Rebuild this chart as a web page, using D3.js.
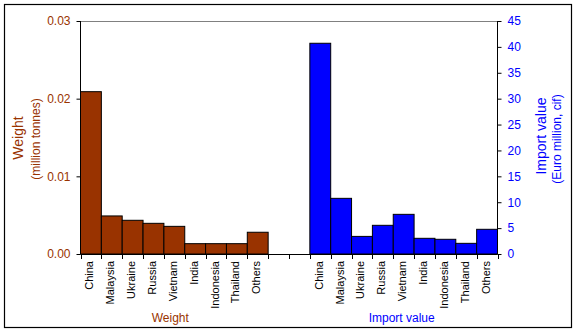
<!DOCTYPE html>
<html><head><meta charset="utf-8">
<script src="https://cdn.jsdelivr.net/npm/d3@7"></script>
<style>body{margin:0;background:#fff}svg{display:block;font-family:Arial,"Liberation Sans",sans-serif}</style>
</head><body>
<svg id="c" width="577" height="332"></svg>
<script>
const countries = ["China","Malaysia","Ukraine","Russia","Vietnam","India","Indonesia","Thailand","Others"];
const weightValues = [0.0209,0.0049,0.00434,0.00395,0.00356,0.00133,0.00133,0.00133,0.0028];
const importValues = [40.7,10.75,3.4,5.54,7.66,3.03,2.84,2.06,4.77];
const weightTicks = [0,0.01,0.02,0.03];
const importTicks = [0,5,10,15,20,25,30,35,40,45];

const brown = "#993300", blue = "#0000FF";
const svg = d3.select("#c");
const L = 80.5, R = 497.5, T = 21, B = 254;

svg.append("rect").attr("x",4.5).attr("y",4.5).attr("width",567).attr("height",323)
  .attr("fill","none").attr("stroke","#000").attr("stroke-width",1.2);

const slots = countries.map(c=>"w_"+c).concat(["gap1","gap2"], countries.map(c=>"i_"+c));
const x = d3.scaleBand().domain(slots).range([L,R]).padding(0);
const yW = d3.scaleLinear().domain([0,0.03]).range([B,T]);
const yI = d3.scaleLinear().domain([0,45]).range([B,T]);

// top gray line
svg.append("line").attr("x1",L).attr("x2",R).attr("y1",T+0.5).attr("y2",T+0.5).attr("stroke","#808080");

// bars
svg.append("g").selectAll("rect").data(countries).join("rect")
  .attr("x",(d)=>x("w_"+d)).attr("width",x.bandwidth())
  .attr("y",(d,i)=>yW(weightValues[i])).attr("height",(d,i)=>B-yW(weightValues[i]))
  .attr("fill",brown).attr("stroke","#000").attr("stroke-width",1);
svg.append("g").selectAll("rect").data(countries).join("rect")
  .attr("x",(d)=>x("i_"+d)).attr("width",x.bandwidth())
  .attr("y",(d,i)=>yI(importValues[i])).attr("height",(d,i)=>B-yI(importValues[i]))
  .attr("fill",blue).attr("stroke","#000").attr("stroke-width",1);

// left axis
const gL = svg.append("g").attr("transform",`translate(${L},0)`)
  .call(d3.axisLeft(yW).tickValues(weightTicks).tickFormat(d3.format(".2f")).tickSize(4).tickPadding(6));
gL.select(".domain").attr("stroke","#000").attr("d",`M0,${T}V${B}`);
gL.selectAll(".tick line").attr("stroke","#000");
gL.selectAll("text").attr("fill",brown).style("font-size","12px").style("font-family","Arial, 'Liberation Sans', sans-serif");

// right axis
const gR = svg.append("g").attr("transform",`translate(${R},0)`)
  .call(d3.axisRight(yI).tickValues(importTicks).tickSize(4).tickPadding(6));
gR.select(".domain").attr("stroke","#000").attr("d",`M0,${T}V${B}`);
gR.selectAll(".tick line").attr("stroke","#000");
gR.selectAll("text").attr("fill",blue).style("font-size","12px").style("font-family","Arial, 'Liberation Sans', sans-serif");

// x axis
svg.append("line").attr("x1",L).attr("x2",R).attr("y1",B+0.5).attr("y2",B+0.5).attr("stroke","#000");
const tickPos = slots.map(s=>x(s)).concat([R]);
svg.append("g").selectAll("line").data(tickPos).join("line")
  .attr("x1",d=>Math.round(d)+0.5).attr("x2",d=>Math.round(d)+0.5).attr("y1",B).attr("y2",B+5).attr("stroke","#000");

const labG = svg.append("g").style("font-size","11px").attr("fill","#000");
countries.forEach(c=>{
  ["w_","i_"].forEach(p=>{
    const cx = x(p+c)+x.bandwidth()/2;
    labG.append("text").attr("transform",`translate(${cx+2.5},261) rotate(-90)`)
      .attr("text-anchor","end").text(c);
  });
});

// axis titles
const wCx = (x("w_China")+x("w_Others")+x.bandwidth())/2;
const iCx = (x("i_China")+x("i_Others")+x.bandwidth())/2;
svg.append("text").attr("x",wCx-4).attr("y",322).attr("text-anchor","middle").attr("fill",brown).style("font-size","12px").text("Weight");
svg.append("text").attr("x",iCx-2).attr("y",322).attr("text-anchor","middle").attr("fill",blue).style("font-size","12px").text("Import value");

svg.append("text").attr("transform","translate(23,138) rotate(-90)").attr("text-anchor","middle").attr("fill",brown).style("font-size","14px").text("Weight");
svg.append("text").attr("transform","translate(40,139) rotate(-90)").attr("text-anchor","middle").attr("fill",brown).style("font-size","12px").text("(million tonnes)");
svg.append("text").attr("transform","translate(546,136) rotate(-90)").attr("text-anchor","middle").attr("fill",blue).style("font-size","14px").text("Import value");
svg.append("text").attr("transform","translate(561,139) rotate(-90)").attr("text-anchor","middle").attr("fill",blue).style("font-size","12px").text("(Euro million, cif)");
</script>
</body></html>
